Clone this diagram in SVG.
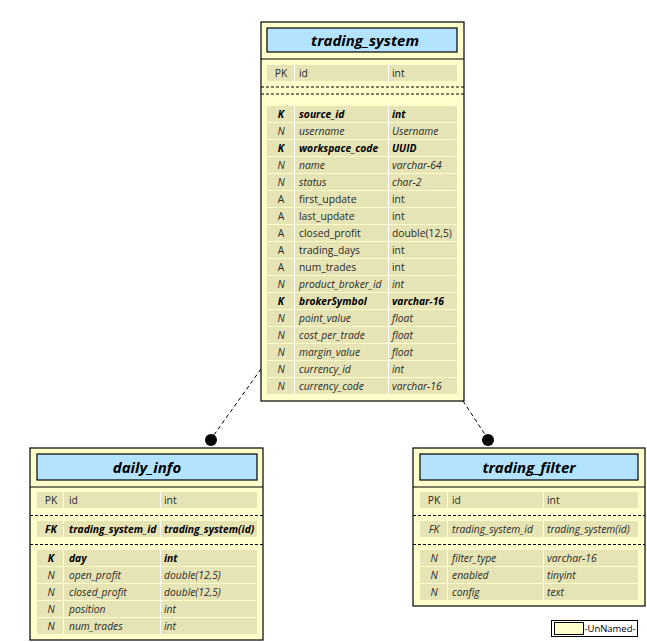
<svg xmlns="http://www.w3.org/2000/svg" width="647" height="642" viewBox="0 0 647 642">
<style>
.box{fill:#ffffcc;stroke:#000;stroke-width:1.2}
.title{fill:#b3e3ff;stroke:#000;stroke-width:1.2}
.tt{font-family:"Open Sans","DejaVu Sans",sans-serif;font-size:15px;font-weight:bold;font-style:italic;fill:#000;text-anchor:middle}
.row{fill:#e6e4b4}
.sep{stroke:#fff;stroke-width:1}
.hl{stroke:#000;stroke-width:1}
.dash{stroke:#000;stroke-width:1;stroke-dasharray:3,2}
text.c{font-family:"Open Sans","DejaVu Sans",sans-serif;font-size:10.3px;fill:#2a2a2a}
.k{font-weight:bold;font-style:italic;fill:#000 !important}
.n{font-style:italic}
.m{text-anchor:middle}
.conn{stroke:#000;stroke-width:1;stroke-dasharray:4,3;fill:none}
</style>
<g id="connectors">
<line class="conn" x1="261" y1="369" x2="211" y2="439"/>
<circle cx="211" cy="440" r="6" fill="#000"/>
<line class="conn" x1="463" y1="401" x2="488" y2="439"/>
<circle cx="488" cy="440" r="6" fill="#000"/>
</g>
<g id="trading_system">
<rect class="box" x="261" y="22" width="203" height="379"/>
<rect class="title" x="267" y="28" width="190" height="24"/>
<text class="tt" x="365" y="46">trading_system</text>
<line class="hl" x1="261" y1="59" x2="464" y2="59"/>
<rect class="row" x="267" y="65" width="190" height="16"/>
<line class="sep" x1="294.5" y1="65" x2="294.5" y2="81"/>
<line class="sep" x1="388.5" y1="65" x2="388.5" y2="81"/>
<text class="c m" x="281" y="77">PK</text><text class="c" x="299" y="77">id</text><text class="c" x="392" y="77">int</text>
<line class="dash" x1="261" y1="87" x2="464" y2="87"/>
<line class="dash" x1="261" y1="94" x2="464" y2="94"/>
<g>
<rect class="row" x="267" y="106" width="190" height="16"/>
<rect class="row" x="267" y="123" width="190" height="16"/>
<rect class="row" x="267" y="140" width="190" height="16"/>
<rect class="row" x="267" y="157" width="190" height="16"/>
<rect class="row" x="267" y="174" width="190" height="16"/>
<rect class="row" x="267" y="191" width="190" height="16"/>
<rect class="row" x="267" y="208" width="190" height="16"/>
<rect class="row" x="267" y="225" width="190" height="16"/>
<rect class="row" x="267" y="242" width="190" height="16"/>
<rect class="row" x="267" y="259" width="190" height="16"/>
<rect class="row" x="267" y="276" width="190" height="16"/>
<rect class="row" x="267" y="293" width="190" height="16"/>
<rect class="row" x="267" y="310" width="190" height="16"/>
<rect class="row" x="267" y="327" width="190" height="16"/>
<rect class="row" x="267" y="344" width="190" height="16"/>
<rect class="row" x="267" y="361" width="190" height="16"/>
<rect class="row" x="267" y="378" width="190" height="16"/>
<line class="sep" x1="294.5" y1="106" x2="294.5" y2="394"/>
<line class="sep" x1="388.5" y1="106" x2="388.5" y2="394"/>
</g>
<text class="c m k" x="281" y="118">K</text><text class="c k" x="299" y="118">source_id</text><text class="c k" x="392" y="118">int</text>
<text class="c m n" x="281" y="135">N</text><text class="c n" x="299" y="135">username</text><text class="c n" x="392" y="135">Username</text>
<text class="c m k" x="281" y="152">K</text><text class="c k" x="299" y="152">workspace_code</text><text class="c k" x="392" y="152">UUID</text>
<text class="c m n" x="281" y="169">N</text><text class="c n" x="299" y="169">name</text><text class="c n" x="392" y="169">varchar-64</text>
<text class="c m n" x="281" y="186">N</text><text class="c n" x="299" y="186">status</text><text class="c n" x="392" y="186">char-2</text>
<text class="c m" x="281" y="203">A</text><text class="c" x="299" y="203">first_update</text><text class="c" x="392" y="203">int</text>
<text class="c m" x="281" y="220">A</text><text class="c" x="299" y="220">last_update</text><text class="c" x="392" y="220">int</text>
<text class="c m" x="281" y="237">A</text><text class="c" x="299" y="237">closed_profit</text><text class="c" x="392" y="237">double(12,5)</text>
<text class="c m" x="281" y="254">A</text><text class="c" x="299" y="254">trading_days</text><text class="c" x="392" y="254">int</text>
<text class="c m" x="281" y="271">A</text><text class="c" x="299" y="271">num_trades</text><text class="c" x="392" y="271">int</text>
<text class="c m n" x="281" y="288">N</text><text class="c n" x="299" y="288">product_broker_id</text><text class="c n" x="392" y="288">int</text>
<text class="c m k" x="281" y="305">K</text><text class="c k" x="299" y="305">brokerSymbol</text><text class="c k" x="392" y="305">varchar-16</text>
<text class="c m n" x="281" y="322">N</text><text class="c n" x="299" y="322">point_value</text><text class="c n" x="392" y="322">float</text>
<text class="c m n" x="281" y="339">N</text><text class="c n" x="299" y="339">cost_per_trade</text><text class="c n" x="392" y="339">float</text>
<text class="c m n" x="281" y="356">N</text><text class="c n" x="299" y="356">margin_value</text><text class="c n" x="392" y="356">float</text>
<text class="c m n" x="281" y="373">N</text><text class="c n" x="299" y="373">currency_id</text><text class="c n" x="392" y="373">int</text>
<text class="c m n" x="281" y="390">N</text><text class="c n" x="299" y="390">currency_code</text><text class="c n" x="392" y="390">varchar-16</text>
</g>
<g id="daily_info">
<rect class="box" x="30" y="448" width="233" height="192"/>
<rect class="title" x="37" y="454" width="220" height="26"/>
<text class="tt" x="147" y="473">daily_info</text>
<line class="hl" x1="30" y1="487" x2="263" y2="487"/>
<rect class="row" x="37" y="492" width="220" height="16"/>
<line class="sep" x1="63.5" y1="492" x2="63.5" y2="508"/>
<line class="sep" x1="160.5" y1="492" x2="160.5" y2="508"/>
<text class="c m" x="51" y="504">PK</text><text class="c" x="69" y="504">id</text><text class="c" x="164" y="504">int</text>
<line class="dash" x1="30" y1="515.5" x2="263" y2="515.5"/>
<rect class="row" x="37" y="521" width="220" height="16"/>
<line class="sep" x1="63.5" y1="521" x2="63.5" y2="537"/>
<line class="sep" x1="160.5" y1="521" x2="160.5" y2="537"/>
<text class="c m k" x="51" y="533">FK</text><text class="c k" x="69" y="533">trading_system_id</text><text class="c k" x="164" y="533">trading_system(id)</text>
<line class="dash" x1="30" y1="544.5" x2="263" y2="544.5"/>
<rect class="row" x="37" y="550" width="220" height="16"/>
<rect class="row" x="37" y="567" width="220" height="16"/>
<rect class="row" x="37" y="584" width="220" height="16"/>
<rect class="row" x="37" y="601" width="220" height="16"/>
<rect class="row" x="37" y="618" width="220" height="16"/>
<line class="sep" x1="63.5" y1="550" x2="63.5" y2="634"/>
<line class="sep" x1="160.5" y1="550" x2="160.5" y2="634"/>
<text class="c m k" x="51" y="562">K</text><text class="c k" x="69" y="562">day</text><text class="c k" x="164" y="562">int</text>
<text class="c m n" x="51" y="579">N</text><text class="c n" x="69" y="579">open_profit</text><text class="c n" x="164" y="579">double(12,5)</text>
<text class="c m n" x="51" y="596">N</text><text class="c n" x="69" y="596">closed_profit</text><text class="c n" x="164" y="596">double(12,5)</text>
<text class="c m n" x="51" y="613">N</text><text class="c n" x="69" y="613">position</text><text class="c n" x="164" y="613">int</text>
<text class="c m n" x="51" y="630">N</text><text class="c n" x="69" y="630">num_trades</text><text class="c n" x="164" y="630">int</text>
</g>
<g id="trading_filter">
<rect class="box" x="413" y="448" width="232" height="158"/>
<rect class="title" x="420" y="454" width="218" height="26"/>
<text class="tt" x="529" y="473">trading_filter</text>
<line class="hl" x1="413" y1="487" x2="645" y2="487"/>
<rect class="row" x="420" y="492" width="218" height="16"/>
<line class="sep" x1="447.5" y1="492" x2="447.5" y2="508"/>
<line class="sep" x1="543.5" y1="492" x2="543.5" y2="508"/>
<text class="c m" x="434" y="504">PK</text><text class="c" x="452" y="504">id</text><text class="c" x="547" y="504">int</text>
<line class="dash" x1="413" y1="515.5" x2="645" y2="515.5"/>
<rect class="row" x="420" y="521" width="218" height="16"/>
<line class="sep" x1="447.5" y1="521" x2="447.5" y2="537"/>
<line class="sep" x1="543.5" y1="521" x2="543.5" y2="537"/>
<text class="c m n" x="434" y="533">FK</text><text class="c n" x="452" y="533">trading_system_id</text><text class="c n" x="547" y="533">trading_system(id)</text>
<line class="dash" x1="413" y1="544.5" x2="645" y2="544.5"/>
<rect class="row" x="420" y="550" width="218" height="16"/>
<rect class="row" x="420" y="567" width="218" height="16"/>
<rect class="row" x="420" y="584" width="218" height="16"/>
<line class="sep" x1="447.5" y1="550" x2="447.5" y2="600"/>
<line class="sep" x1="543.5" y1="550" x2="543.5" y2="600"/>
<text class="c m n" x="434" y="562">N</text><text class="c n" x="452" y="562">filter_type</text><text class="c n" x="547" y="562">varchar-16</text>
<text class="c m n" x="434" y="579">N</text><text class="c n" x="452" y="579">enabled</text><text class="c n" x="547" y="579">tinyint</text>
<text class="c m n" x="434" y="596">N</text><text class="c n" x="452" y="596">config</text><text class="c n" x="547" y="596">text</text>
</g>
<g id="legend">
<rect x="551.5" y="620.5" width="86" height="16" fill="#fff" stroke="#000" stroke-width="1"/>
<rect x="554.5" y="622.5" width="29" height="12" fill="#ffffcc" stroke="#000" stroke-width="1"/>
<text class="c" x="584.5" y="632" style="fill:#000;font-size:9.5px" textLength="51" lengthAdjust="spacingAndGlyphs">-UnNamed-</text>
</g>
</svg>
